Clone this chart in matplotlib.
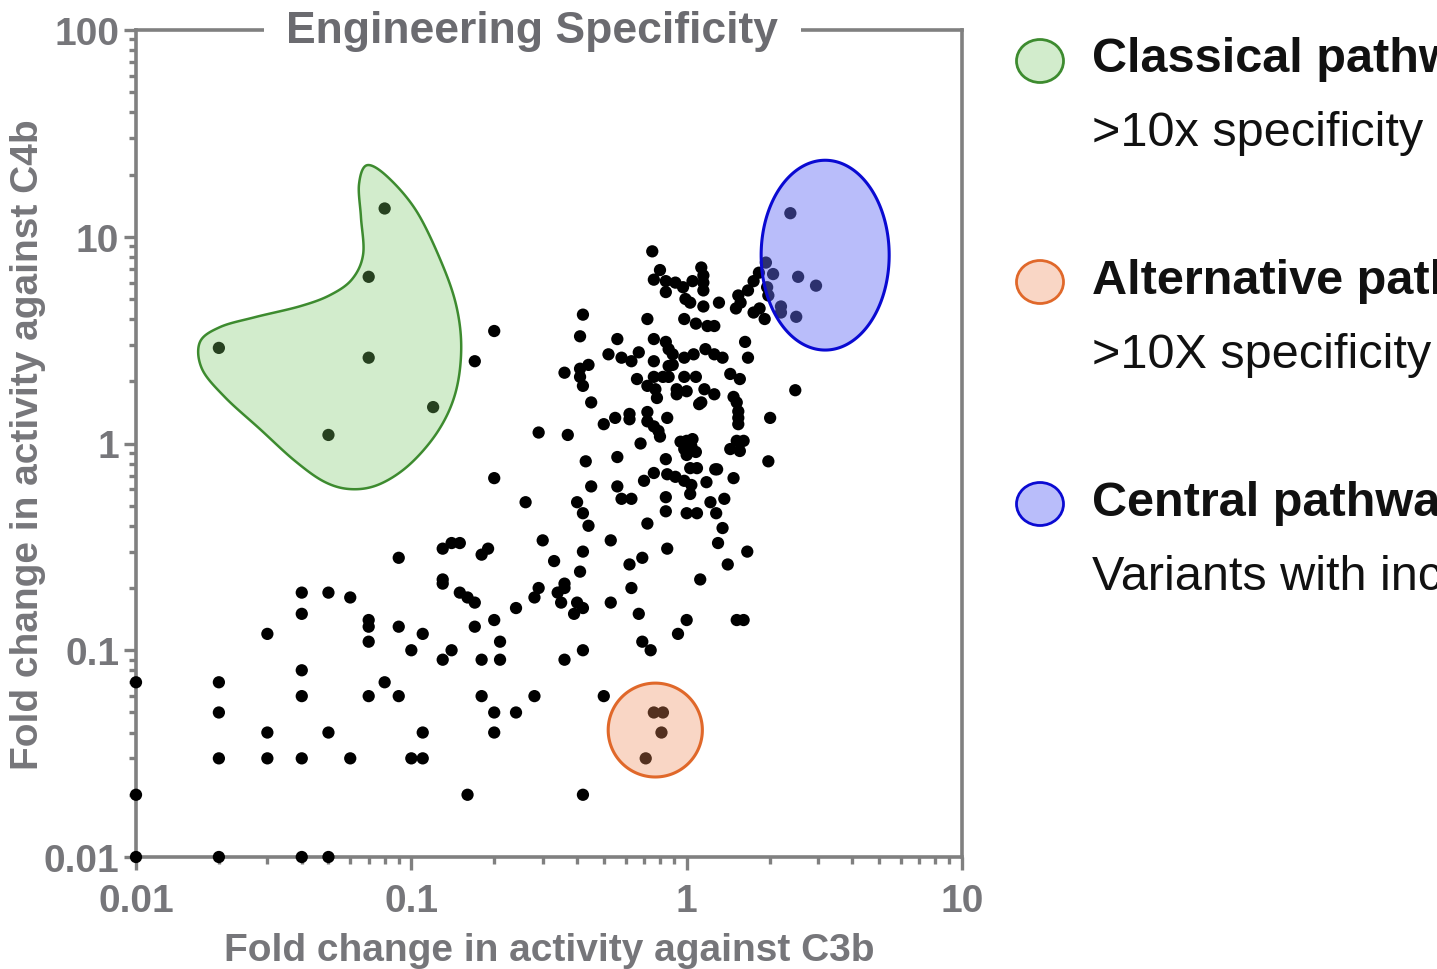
import numpy as np
import matplotlib.pyplot as plt
from matplotlib.patches import Ellipse
from matplotlib import font_manager

# fold change of each variant against C3b (x) and C4b (y)
fold_c3b = [
    # low activity corner
    0.01, 0.02, 0.04, 0.05, 0.01, 0.01, 0.02, 0.02, 0.02, 0.03, 0.03, 0.03,
    0.04, 0.04, 0.04, 0.04, 0.04, 0.05, 0.05, 0.06, 0.06, 0.07, 0.07, 0.07,
    0.07, 0.08, 0.09, 0.09, 0.09, 0.10, 0.10, 0.11, 0.11, 0.11, 0.13, 0.13,
    0.13, 0.13, 0.14, 0.15, 0.14, 0.15, 0.16, 0.17, 0.17, 0.16, 0.18, 0.19,
    0.20, 0.18, 0.21, 0.21, 0.18, 0.20, 0.20, 0.24, 0.24, 0.28, 0.29, 0.28,
    0.30,
    # middle band
    0.33, 0.42, 0.41, 0.53, 0.62, 0.69, 0.85, 1.30, 1.66, 1.41, 1.12,
    0.34, 0.36, 0.36, 0.35, 0.40, 0.42, 0.39, 0.53, 0.63, 0.67, 0.69, 0.74,
    0.93, 1.00, 1.52, 1.61, 0.36, 0.42, 0.50, 0.42,
    0.20, 0.17, 0.29, 0.20, 0.26,
    0.76, 0.82, 0.81, 0.71,
    0.02, 0.08, 0.07, 0.07, 0.05, 0.12,
    # main cluster
    0.75, 0.80, 0.76, 0.84, 0.84, 0.91, 0.97, 1.05, 1.13, 1.15, 1.15, 1.15,
    0.99, 1.03, 1.15, 1.31, 0.72, 0.98, 1.08, 1.19, 1.26,
    1.54, 1.67, 1.75, 1.83, 1.94, 1.51, 1.57, 1.75, 1.84, 1.92,
    2.06, 2.54, 2.95, 1.96, 1.98, 2.20, 2.20, 2.50, 2.38,
    0.42, 0.41, 0.56, 0.52, 0.58, 0.63, 0.67, 0.76, 0.84,
    0.36, 0.41, 0.44, 0.41, 0.42, 0.45,
    0.76, 0.66, 0.72, 0.76,
    0.86, 0.89, 0.98, 1.06, 1.17, 1.26, 1.35,
    0.86, 0.89, 0.82, 0.86, 0.77, 0.78, 0.98, 1.08,
    0.92, 1.00, 0.92, 1.16, 1.26, 1.13, 1.11,
    1.44, 1.56, 1.63, 1.67,
    1.48, 1.52, 1.54, 1.54, 1.54, 1.52, 1.61, 1.44, 1.56,
    2.48, 2.01, 1.98, 1.29, 1.48,
    1.22, 1.37, 1.28, 1.35,
    0.95, 1.00, 1.05, 1.04, 0.98, 1.08, 1.00,
    1.03, 1.09, 1.18, 1.27, 0.84,
    0.76, 0.85, 0.91, 0.98, 1.04, 1.03, 0.70,
    0.84, 0.84, 1.00, 1.09, 0.72,
    0.68, 0.56, 0.43, 0.45, 0.56, 0.58, 0.63,
    0.40, 0.42, 0.44, 0.37,
    0.50, 0.55, 0.62, 0.62,
    0.72, 0.72, 0.76, 0.79, 0.80, 0.85,
]
fold_c4b = [
    # low activity corner
    0.01, 0.01, 0.01, 0.01, 0.02, 0.07, 0.07, 0.05, 0.03, 0.12, 0.04, 0.03,
    0.19, 0.15, 0.08, 0.06, 0.03, 0.19, 0.04, 0.18, 0.03, 0.14, 0.13, 0.11,
    0.06, 0.07, 0.28, 0.13, 0.06, 0.10, 0.03, 0.12, 0.04, 0.03, 0.31, 0.22,
    0.21, 0.09, 0.33, 0.33, 0.10, 0.19, 0.18, 0.17, 0.13, 0.02, 0.29, 0.31,
    0.14, 0.09, 0.11, 0.09, 0.06, 0.05, 0.04, 0.16, 0.05, 0.18, 0.20, 0.06,
    0.34,
    # middle band
    0.27, 0.30, 0.24, 0.34, 0.26, 0.28, 0.31, 0.33, 0.30, 0.26, 0.22,
    0.19, 0.21, 0.20, 0.17, 0.17, 0.16, 0.15, 0.17, 0.20, 0.15, 0.11, 0.10,
    0.12, 0.14, 0.14, 0.14, 0.09, 0.10, 0.06, 0.02,
    3.5, 2.5, 1.13, 0.68, 0.52,
    0.05, 0.05, 0.04, 0.03,
    2.9, 13.7, 6.4, 2.6, 1.1, 1.5,
    # main cluster
    8.5, 6.9, 6.2, 6.1, 5.4, 6.0, 5.7, 6.1, 7.1, 6.5, 6.0, 5.5,
    5.0, 4.8, 4.6, 4.8, 4.0, 4.0, 3.8, 3.7, 3.7,
    5.2, 5.5, 6.1, 6.7, 7.5, 4.5, 4.8, 4.3, 4.5, 4.0,
    6.6, 6.4, 5.8, 5.7, 5.2, 4.6, 4.3, 4.1, 13.0,
    4.2, 3.3, 3.2, 2.7, 2.6, 2.5, 2.76, 3.2, 3.1,
    2.2, 2.3, 2.4, 2.1, 1.9, 1.58,
    2.5, 2.05, 1.9, 2.1,
    2.86, 2.7, 2.6, 2.7, 2.86, 2.7, 2.6,
    2.37, 2.4, 2.1, 2.1, 1.83, 1.66, 2.1, 2.1,
    1.83, 1.79, 1.73, 1.83, 1.73, 1.58, 1.55,
    2.17, 2.05, 3.1, 2.6,
    1.68, 1.58, 1.43, 1.33, 1.24, 1.03, 1.03, 0.94, 0.92,
    1.81, 1.33, 0.82, 0.75, 0.68,
    0.52, 0.54, 0.46, 0.39,
    1.02, 1.03, 1.05, 0.97, 0.94, 0.91, 0.88,
    0.76, 0.76, 0.65, 0.75, 0.84,
    0.72, 0.71, 0.69, 0.66, 0.63, 0.57, 0.66,
    0.55, 0.47, 0.46, 0.46, 0.41,
    1.00, 0.86, 0.82, 0.62, 0.62, 0.54, 0.54,
    0.52, 0.46, 0.40, 1.10,
    1.24, 1.33, 1.39, 1.31,
    1.42, 1.28, 1.21, 1.15, 1.08, 1.33,
]

x_ticks = [0.01, 0.1, 1, 10]
x_ticklabels = ['0.01', '0.1', '1', '10']
y_ticks = [0.01, 0.1, 1, 10, 100]
y_ticklabels = ['0.01', '0.1', '1', '10', '100']

groups = ['Classical pathway', 'Alternative pathway', 'Central pathway']
group_notes = ['>10x specificity for C4b', '>10X specificity for C3b',
               'Variants with increased activity']

# outline of the classical region, log10 units
classical_lx = [-1.161, -1.085, -0.979, -0.885, -0.834, -0.819, -0.841, -0.903,
                -1.005, -1.114, -1.215, -1.313, -1.422, -1.550, -1.677, -1.760,
                -1.768, -1.695, -1.568, -1.404, -1.295, -1.215, -1.175, -1.183,
                -1.190]
classical_ly = [1.346, 1.288, 1.119, 0.858, 0.650, 0.447, 0.239, 0.060,
                -0.100, -0.196, -0.221, -0.187, -0.085, 0.070, 0.224, 0.360,
                0.490, 0.563, 0.611, 0.664, 0.718, 0.795, 0.916, 1.095,
                1.254]

names = {f.name for f in font_manager.fontManager.ttflist}
narrow = 'Liberation Sans Narrow' if 'Liberation Sans Narrow' in names else 'Liberation Sans'
plt.rcParams['font.family'] = ['Liberation Sans', 'DejaVu Sans']

grey = '#808080'
text_grey = '#76767a'
fills = ['#79c864', '#f08c5a', '#646ef5']
alphas = [0.33, 0.35, 0.45]
edges = ['#3d8b2f', '#e0682a', '#0a0ad2']


def smooth_closed(px, py, n=30):
    # periodic Catmull-Rom through the outline points
    P = np.column_stack([px, py])
    m = len(P)
    t = np.linspace(0, 1, n, endpoint=False)[:, None]
    out = []
    for i in range(m):
        p0, p1, p2, p3 = P[i - 1], P[i], P[(i + 1) % m], P[(i + 2) % m]
        out.append(0.5 * (2 * p1 + (p2 - p0) * t
                          + (2 * p0 - 5 * p1 + 4 * p2 - p3) * t ** 2
                          + (3 * p1 - p0 - 3 * p2 + p3) * t ** 3))
    return np.vstack(out)


def log_ellipse(cx, cy, a, b):
    t = np.linspace(0, 2 * np.pi, 300)
    return 10 ** (cx + a * np.cos(t)), 10 ** (cy + b * np.sin(t))


fig = plt.figure(figsize=(14.37, 9.70), dpi=100)
ax = fig.add_axes([136 / 1437, 112 / 970, 826 / 1437, 827 / 970])

ax.scatter(fold_c3b, fold_c4b, s=78, c='black', edgecolors='none',
           zorder=3, clip_on=False)

# highlighted regions
shape = smooth_closed(classical_lx, classical_ly)
ax.fill(10 ** shape[:, 0], 10 ** shape[:, 1], facecolor=fills[0], alpha=alphas[0], zorder=4)
ax.fill(10 ** shape[:, 0], 10 ** shape[:, 1], facecolor='none', edgecolor=edges[0], lw=1.8, zorder=5)

ex, ey = log_ellipse(-0.114, -1.386, 0.171, 0.227)
ax.fill(ex, ey, facecolor=fills[1], alpha=alphas[1], zorder=4)
ax.fill(ex, ey, facecolor='none', edgecolor=edges[1], lw=2.2, zorder=5)

ex, ey = log_ellipse(0.503, 0.911, 0.2325, 0.459)
ax.fill(ex, ey, facecolor=fills[2], alpha=alphas[2], zorder=4)
ax.fill(ex, ey, facecolor='none', edgecolor=edges[2], lw=2.2, zorder=5)

ax.set_xscale('log')
ax.set_yscale('log')
ax.set_xlim(0.01, 10)
ax.set_ylim(0.01, 100)
ax.set_xticks(x_ticks)
ax.set_xticklabels(x_ticklabels)
ax.set_yticks(y_ticks)
ax.set_yticklabels(y_ticklabels)

for s in ax.spines.values():
    s.set_color(grey)
    s.set_linewidth(2.6)
ax.tick_params(which='both', direction='out', color=grey, width=2.4,
               top=False, right=False)
ax.tick_params(which='major', length=9)
ax.tick_params(which='minor', length=5)
ax.tick_params(axis='x', which='major', pad=10)
ax.tick_params(axis='y', which='major', pad=3)
for lab in ax.get_xticklabels() + ax.get_yticklabels():
    lab.set_fontfamily(narrow)
    lab.set_fontweight('bold')
    lab.set_fontsize(28)
    lab.set_color(text_grey)

ax.set_xlabel('Fold change in activity against C3b', family=narrow,
              fontweight='bold', fontsize=28, color=text_grey, labelpad=9)
ax.set_ylabel('Fold change in activity against C4b', family=narrow,
              fontweight='bold', fontsize=28, color=text_grey, labelpad=-2)

ax.text(0.48, 1.0, 'Engineering Specificity', transform=ax.transAxes,
        ha='center', va='center', fontsize=32, fontweight='bold',
        color='#6b6b70', zorder=10, clip_on=False,
        bbox=dict(boxstyle='square,pad=0.5', facecolor='white', edgecolor='none'))

# legend panel on the right
rows = [62, 283, 505]
for i in range(3):
    yc = 1 - rows[i] / 970
    fig.add_artist(Ellipse((1040 / 1437, yc), 47 / 1437, 43 / 970,
                           transform=fig.transFigure, facecolor=fills[i],
                           alpha=alphas[i], edgecolor='none'))
    fig.add_artist(Ellipse((1040 / 1437, yc), 47 / 1437, 43 / 970,
                           transform=fig.transFigure, facecolor='none',
                           edgecolor=edges[i], lw=2))
    fig.text(1092 / 1437, yc + 2 / 970, groups[i], fontsize=35, fontweight='bold',
             color='#111111', ha='left', va='center')
    fig.text(1092 / 1437, yc - 72 / 970, group_notes[i], fontsize=35,
             color='#111111', ha='left', va='center')

fig.savefig('out.png', dpi=100)
